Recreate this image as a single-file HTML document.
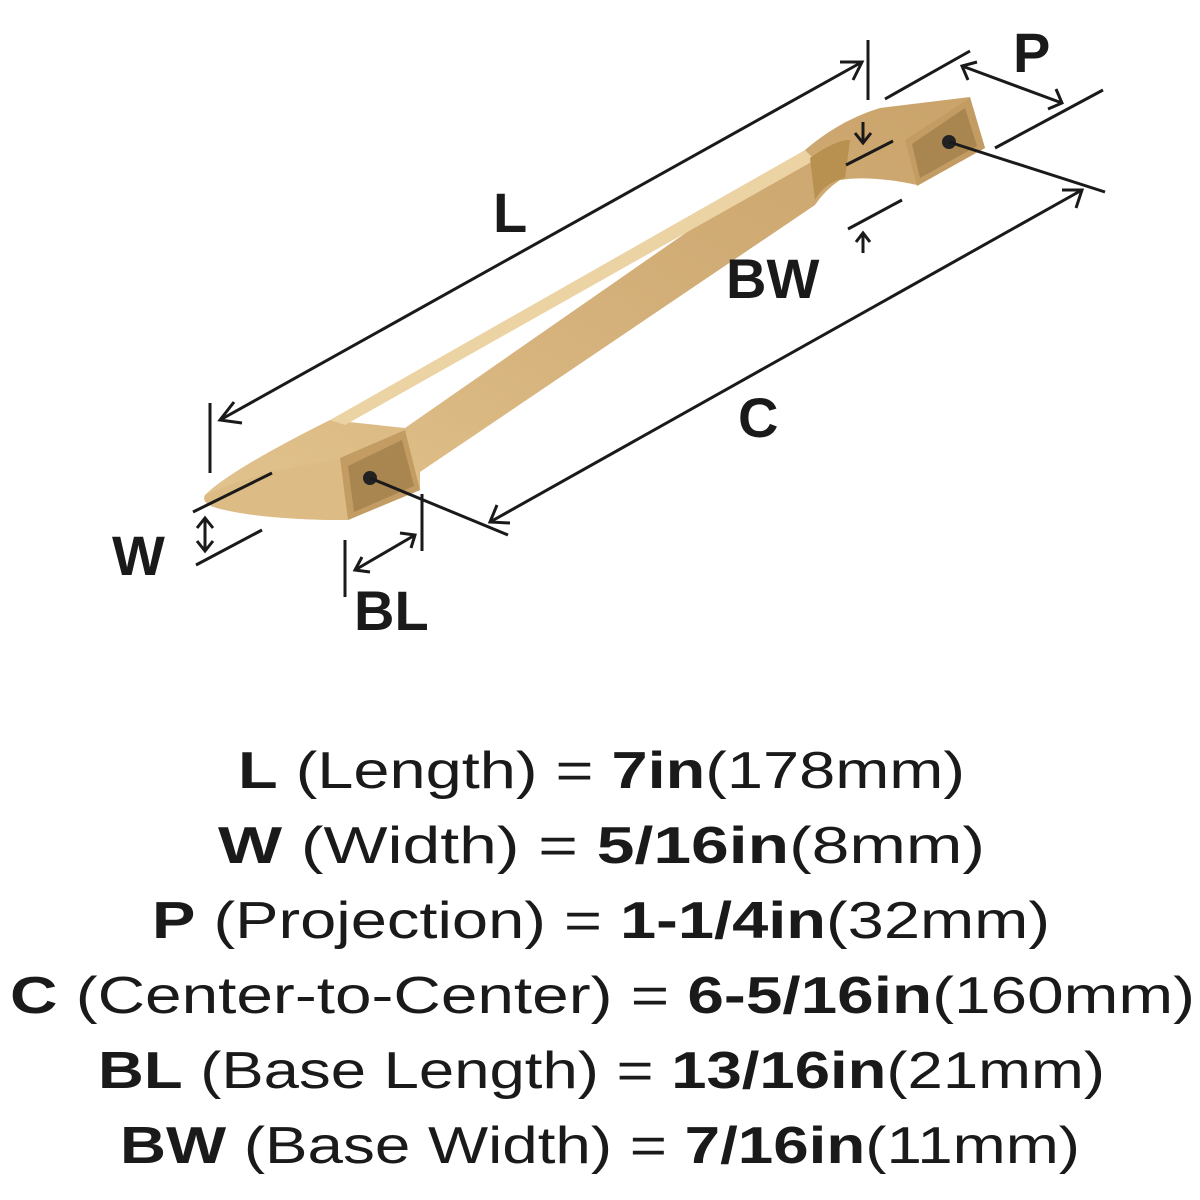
<!DOCTYPE html>
<html><head><style>html,body{margin:0;padding:0;background:#fff;width:1200px;height:1200px;overflow:hidden}</style></head>
<body>
<svg width="1200" height="1200" viewBox="0 0 1200 1200" xmlns="http://www.w3.org/2000/svg">
<defs>
<linearGradient id="g" x1="0" y1="1" x2="1" y2="0">
<stop offset="0" stop-color="#e3c48e"/><stop offset="0.5" stop-color="#d4b07a"/><stop offset="1" stop-color="#c9a36a"/>
</linearGradient>
</defs>
<!-- handle body -->
<path d="M205,495 Q230,470 330,420 L405,428 L805,150 Q840,120 880,108 L970,97 L985,148 L917,185 Q870,175 840,180 Q825,190 815,205 L420,472 L420,490 L348,520 Q270,520 225,510 Q200,505 205,495 Z" fill="url(#g)"/>
<path d="M330,420 L805,150 L815,160 L345,425 Z" fill="#ecd3a3"/>
<path d="M810,158 Q835,140 850,140 L845,178 Q825,182 815,200 Z" fill="#b8904f"/>
<path d="M205,495 Q260,470 340,460 L348,520 Q270,520 225,510 Q200,505 205,495Z" fill="#dcbb85"/>
<!-- bases -->
<polygon points="340,458 405,430 420,490 348,520" fill="#c29c62"/>
<polygon points="348,466 402,440 414,486 354,512" fill="#a9854f"/>
<polygon points="905,140 970,98 985,148 917,186" fill="#c29c62"/>
<polygon points="912,144 965,108 977,146 920,178" fill="#a9854f"/>
<circle cx="370" cy="478" r="7" fill="#222"/>
<circle cx="949" cy="142" r="7" fill="#222"/>
<g stroke="#1a1a1a" stroke-width="3" fill="none" stroke-linecap="butt">
<!-- L -->
<line x1="220" y1="420" x2="862" y2="62"/>
<polyline points="234,402 220,420 242,423"/>
<polyline points="840,62 862,62 853,80"/>
<line x1="210" y1="403" x2="210" y2="473"/>
<line x1="868" y1="40" x2="868" y2="100"/>
<!-- P -->
<line x1="885" y1="99" x2="970" y2="51"/>
<line x1="995" y1="148" x2="1103" y2="90"/>
<line x1="962" y1="66" x2="1062" y2="103"/>
<polyline points="968,80 962,66 977,62"/>
<polyline points="1048,109 1062,103 1056,89"/>
<!-- C -->
<line x1="949" y1="142" x2="1105" y2="192"/>
<line x1="370" y1="478" x2="508" y2="535"/>
<line x1="490" y1="522" x2="1082" y2="190"/>
<polyline points="497,505 490,522 510,523"/>
<polyline points="1062,190 1082,190 1076,208"/>
<!-- BW -->
<line x1="863" y1="122" x2="863" y2="142"/>
<polyline points="855,133 863,143 871,133"/>
<line x1="846" y1="165" x2="893" y2="141"/>
<line x1="848" y1="229" x2="902" y2="200"/>
<line x1="863" y1="253" x2="863" y2="233"/>
<polyline points="856,242 863,233 870,242"/>
<!-- W -->
<line x1="193" y1="512" x2="272" y2="473"/>
<line x1="196" y1="565" x2="262" y2="530"/>
<line x1="205" y1="519" x2="205" y2="550"/>
<polyline points="197,528 205,518 213,528"/>
<polyline points="197,541 205,551 213,541"/>
<!-- BL -->
<line x1="345" y1="540" x2="345" y2="597"/>
<line x1="422" y1="494" x2="422" y2="551"/>
<line x1="355" y1="570" x2="415" y2="535"/>
<polyline points="362,557 355,570 370,572"/>
<polyline points="400,533 415,535 411,548"/>
</g>
<g font-family="Liberation Sans, sans-serif" font-weight="bold" font-size="56" fill="#1a1a1a">
<text x="493" y="232">L</text>
<text x="1013" y="72">P</text>
<text x="726" y="298">BW</text>
<text x="738" y="437">C</text>
<text x="112" y="575">W</text>
<text x="354" y="630">BL</text>
</g>
<g font-family="Liberation Sans, sans-serif" font-size="52" fill="#1a1a1a">
<text x="238" y="788" textLength="727" lengthAdjust="spacingAndGlyphs"><tspan font-weight="bold">L</tspan> (Length) = <tspan font-weight="bold">7in</tspan>(178mm)</text>
<text x="218" y="863" textLength="767" lengthAdjust="spacingAndGlyphs"><tspan font-weight="bold">W</tspan> (Width) = <tspan font-weight="bold">5/16in</tspan>(8mm)</text>
<text x="152" y="938" textLength="898" lengthAdjust="spacingAndGlyphs"><tspan font-weight="bold">P</tspan> (Projection) = <tspan font-weight="bold">1-1/4in</tspan>(32mm)</text>
<text x="10" y="1013" textLength="1185" lengthAdjust="spacingAndGlyphs"><tspan font-weight="bold">C</tspan> (Center-to-Center) = <tspan font-weight="bold">6-5/16in</tspan>(160mm)</text>
<text x="98" y="1088" textLength="1007" lengthAdjust="spacingAndGlyphs"><tspan font-weight="bold">BL</tspan> (Base Length) = <tspan font-weight="bold">13/16in</tspan>(21mm)</text>
<text x="120" y="1163" textLength="960" lengthAdjust="spacingAndGlyphs"><tspan font-weight="bold">BW</tspan> (Base Width) = <tspan font-weight="bold">7/16in</tspan>(11mm)</text>
</g>
</svg>
</body></html>
